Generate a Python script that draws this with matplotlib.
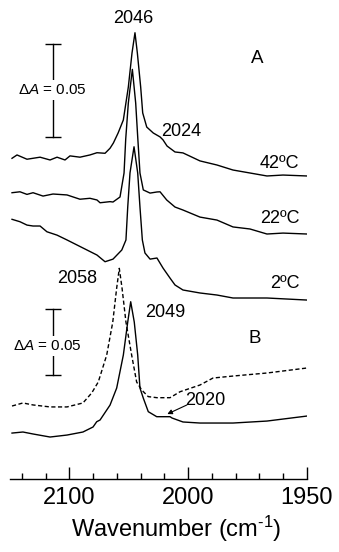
import matplotlib
matplotlib.use("Agg")
import matplotlib.pyplot as plt

plt.rcParams['font.family'] = ['Liberation Sans', 'DejaVu Sans']
plt.rcParams['mathtext.fontset'] = 'custom'
plt.rcParams['mathtext.rm'] = 'Liberation Sans'
plt.rcParams['mathtext.it'] = 'Liberation Sans:italic'

# ---------------- data (wavenumber in cm-1, relative absorbance) ----------------
# Panel A, 42 ºC
wn_42 = [2148.3, 2144.1, 2135.7, 2124.7, 2116.3, 2110.4, 2103.7, 2099.5, 2091.1, 2082.7,
         2076.8, 2070.0, 2065.8, 2063.0, 2059.0, 2054.6, 2050.4, 2047.3, 2044.8, 2042.8,
         2040.0, 2038.3, 2034.9, 2029.4, 2023.7, 2021.2, 2017.8, 2011.1, 2004.4, 1990.1,
         1975.8, 1962.3, 1948.0, 1933.7, 1920.2, 1900.0]
abs_42 = [0.0095, 0.0113, 0.0090, 0.0101, 0.0086, 0.0101, 0.0086, 0.0108, 0.0101, 0.0113,
          0.0125, 0.0122, 0.0149, 0.0177, 0.0231, 0.0301, 0.0478, 0.0661, 0.0770, 0.0661,
          0.0478, 0.0339, 0.0263, 0.0231, 0.0210, 0.0194, 0.0161, 0.0129, 0.0124, 0.0081,
          0.0059, 0.0032, 0.0016, 0.0, 0.0005, 0.0]

# Panel A, 22 ºC
wn_22 = [2148.3, 2141.6, 2135.7, 2130.6, 2122.2, 2113.8, 2102.0, 2091.1, 2082.7, 2076.8,
         2074.2, 2065.8, 2063.3, 2057.4, 2054.0, 2052.6, 2050.4, 2047.0, 2044.2, 2042.5,
         2040.6, 2037.8, 2032.1, 2026.3, 2023.7, 2018.1, 2011.1, 2004.4, 1990.1, 1975.8,
         1962.3, 1948.0, 1933.7, 1920.2, 1900.0]
abs_22 = [0.0222, 0.0227, 0.0213, 0.0222, 0.0204, 0.0215, 0.0210, 0.0187, 0.0192, 0.0183,
          0.0168, 0.0174, 0.0172, 0.0199, 0.0328, 0.0510, 0.0704, 0.0885, 0.0704, 0.0522,
          0.0328, 0.0237, 0.0220, 0.0226, 0.0227, 0.0183, 0.0145, 0.0129, 0.0091, 0.0075,
          0.0038, 0.0027, 0.0, 0.0005, 0.0]

# Panel A, 2 ºC
wn_2 = [2148.3, 2141.6, 2135.7, 2130.6, 2124.7, 2118.9, 2110.4, 2102.0, 2093.6, 2085.2,
        2076.8, 2070.0, 2063.3, 2055.9, 2052.4, 2050.9, 2049.0, 2045.6, 2042.5, 2040.6,
        2038.6, 2036.4, 2032.1, 2026.3, 2021.2, 2015.3, 2011.1, 2004.4, 1990.1, 1975.8,
        1962.3, 1933.7, 1900.0]
abs_2 = [0.0434, 0.0421, 0.0403, 0.0398, 0.0398, 0.0367, 0.0349, 0.0323, 0.0296, 0.0269,
         0.0242, 0.0206, 0.0220, 0.0269, 0.0323, 0.0500, 0.0683, 0.0824, 0.0683, 0.0500,
         0.0323, 0.0253, 0.0220, 0.0226, 0.0172, 0.0118, 0.0081, 0.0054, 0.0038, 0.0027,
         0.0011, 0.0011, 0.0]

# Panel B, dashed
wn_dash = [2148.3, 2139.1, 2130.6, 2116.3, 2102.0, 2088.6, 2081.2, 2075.7, 2068.6, 2063.5,
           2060.2, 2058.0, 2055.7, 2052.4, 2047.6, 2043.4, 2039.1, 2033.6, 2026.3, 2015.3,
           2006.9, 1990.1, 1979.1, 1962.3, 1933.7, 1900.0]
abs_dash = [-0.0288, -0.0265, -0.0280, -0.0295, -0.0295, -0.0265, -0.0189, -0.0106, 0.0098, 0.0348,
            0.0606, 0.0755, 0.0606, 0.0348, 0.0098, -0.0106, -0.0167, -0.0217, -0.0225, -0.0225,
            -0.0180, -0.0129, -0.0076, -0.0061, -0.0038, 0.0]

# Panel B, solid
wn_solid = [2148.3, 2139.1, 2130.6, 2116.3, 2102.0, 2088.6, 2080.1, 2077.0, 2074.2, 2065.8,
            2060.2, 2054.6, 2050.9, 2048.4, 2045.4, 2042.5, 2040.6, 2037.8, 2033.6, 2026.5,
            2015.3, 2013.6, 2004.4, 1990.1, 1962.3, 1933.7, 1900.0]
abs_solid = [-0.0129, -0.0121, -0.0136, -0.0159, -0.0144, -0.0121, -0.0083, -0.0043, -0.0030, 0.0083,
             0.0212, 0.0462, 0.0712, 0.0866, 0.0712, 0.0462, 0.0212, 0.0136, 0.0033, -0.0005,
             -0.0005, -0.0015, -0.0045, -0.0053, -0.0053, -0.0038, 0.0]

temp_labels = ['42ºC', '22ºC', '2ºC']
major_ticks = [2100, 2000, 1900]
major_tick_labels = ['2100', '2000', '1950']
minor_ticks = [2140, 2120, 2080, 2060, 2040, 2020, 1980, 1960, 1940, 1920]
scale_bar = 0.05

# ---------------- figure ----------------
fig = plt.figure(figsize=(3.39, 5.52), dpi=100)
rect = [10 / 339, 73 / 552, 297 / 339, 479 / 552]
axB = fig.add_axes(rect)
axA = fig.add_axes(rect, sharex=axB)
axA.patch.set_visible(False)

axB.set_xlim(2150, 1900)
axA.set_ylim(0, 0.2575)
axB.set_ylim(0, 0.3629)

lw = 1.0
offA = [0.1629, 0.1317, 0.0962]
for wn, ab, off in zip([wn_42, wn_22, wn_2], [abs_42, abs_22, abs_2], offA):
    axA.plot(wn, [a + off for a in ab], color='black', lw=lw)

axB.plot(wn_dash, [a + 0.0841 for a in abs_dash], color='black', lw=lw, linestyle=(0, (3, 1.8)))
axB.plot(wn_solid, [a + 0.0477 for a in abs_solid], color='black', lw=lw)

# scale bars
def bar(ax, x, y0, tx, ty):
    ax.plot([x, x], [y0, y0 + scale_bar], color='black', lw=1.0, zorder=2)
    ax.plot([x, x], [y0, y0 + scale_bar], color='black', lw=0, marker='_',
            markersize=12, markeredgewidth=1.0, zorder=2)
    ax.text(tx, ty, 'Δ$A$ = 0.05', fontsize=11, ha='center', va='center', zorder=3,
            bbox=dict(facecolor='white', edgecolor='none', pad=2))

bar(axA, 2113.8, 0.1839, 2114.6, 0.2091)
bar(axB, 2113.8, 0.0788, 2118.4, 0.1008)

# labels
fs = 13
axA.text(2046.5, 0.2473, '2046', fontsize=fs, ha='center', va='center')
axA.text(1942.1, 0.2258, 'A', fontsize=fs + 0.5, ha='center', va='center')
axA.text(2005.5, 0.1867, '2024', fontsize=fs, ha='center', va='center')
for lab, y in zip(temp_labels, [0.1694, 0.1398, 0.1050]):
    axA.text(1906.5, y, lab, fontsize=fs, ha='right', va='center')

axB.text(2093.6, 0.1520, '2058', fontsize=fs, ha='center', va='center')
axB.text(2019.5, 0.1264, '2049', fontsize=fs, ha='center', va='center')
axB.text(1944.0, 0.1066, 'B', fontsize=fs + 0.5, ha='center', va='center')
axB.text(1985.4, 0.0598, '2020', fontsize=fs, ha='center', va='center')
axB.annotate('', xy=(2017.6, 0.0492), xytext=(2001.1, 0.0561),
             arrowprops=dict(arrowstyle='-|>', color='black', lw=0.8,
                             mutation_scale=7, shrinkA=0, shrinkB=0))

# axes styling
axA.axis('off')
for s in ['left', 'right', 'top']:
    axB.spines[s].set_visible(False)
axB.spines['bottom'].set_linewidth(1.0)
axB.set_yticks([])
axB.set_xticks(major_ticks)
axB.set_xticklabels(major_tick_labels, fontsize=17)
axB.set_xticks(minor_ticks, minor=True)
axB.tick_params(axis='x', which='major', direction='in', length=8.6, width=1.0, pad=5.5)
axB.tick_params(axis='x', which='minor', direction='in', length=4.3, width=1.0)
axB.set_xlabel('Wavenumber (cm$^{\\mathregular{\u2010}1}$)', fontsize=17, va='baseline')
axB.xaxis.set_label_coords(0.56, -0.1205)

fig.savefig('out.png', dpi=100)
